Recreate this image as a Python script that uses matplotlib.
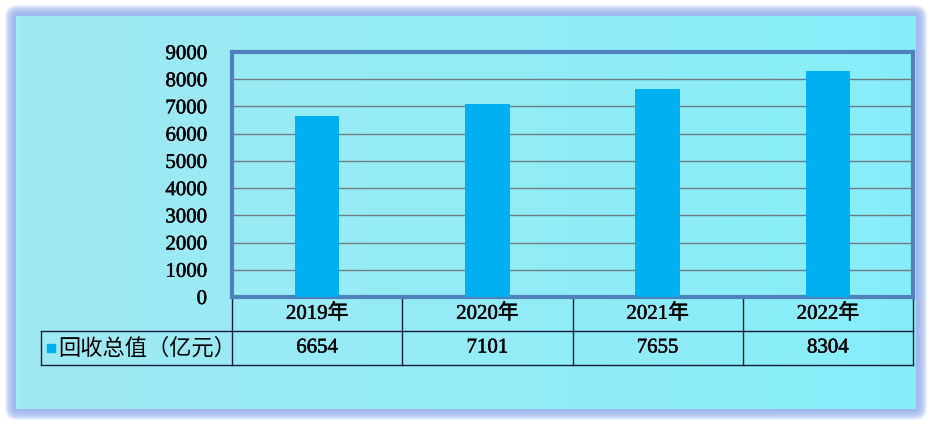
import numpy as np
import matplotlib
matplotlib.use('Agg')
import matplotlib.pyplot as plt
from matplotlib import transforms
from matplotlib import patheffects as pe
from matplotlib.patches import FancyBboxPatch, Rectangle

# data
years = ['2019年', '2020年', '2021年', '2022年']
values = [6654, 7101, 7655, 8304]
series_name = '回收总值（亿元）'
yticks = [0, 1000, 2000, 3000, 4000, 5000, 6000, 7000, 8000, 9000]

bar_color = '#00B0F0'
frame_color = '#4F81BD'
fonts = ['Liberation Serif', 'Noto Sans CJK SC', 'DejaVu Sans']
plt.rcParams['font.family'] = fonts
# slightly heavier than regular, lighter than bold
heavy = [pe.withStroke(linewidth=0.35, foreground='black')]

W, H = 932, 425
fig = plt.figure(figsize=(W / 100, H / 100), dpi=100, facecolor='white')

# background panel with soft glow
bg = fig.add_axes([0, 0, 1, 1], zorder=-5)
bg.set_xlim(0, W)
bg.set_ylim(H, 0)
bg.axis('off')
for d in range(11, 0, -1):
    p = FancyBboxPatch((16 - d, 16 - d), 900 + 2 * d, 393 + 2 * d,
                       boxstyle='round,pad=0,rounding_size=%d' % (d + 2),
                       facecolor='#94B0EC', edgecolor='none', alpha=0.17)
    bg.add_patch(p)
grad = np.linspace(0, 1, 256)[None, :, None]
left_c = np.array([160, 234, 242]) / 255.0
right_c = np.array([134, 238, 249]) / 255.0
img = left_c * (1 - grad) + right_c * grad
bg.imshow(img, extent=[16, 916, 409, 16], aspect='auto', zorder=2)

# main axes (plot area)
ax_l, ax_r, ax_t, ax_b = 232, 913, 52, 297
ax = fig.add_axes([ax_l / W, 1 - ax_b / H, (ax_r - ax_l) / W, (ax_b - ax_t) / H])
ax.set_facecolor('none')
x = np.arange(len(years))
ax.bar(x, values, width=0.26, color=bar_color, zorder=3)
ax.set_xlim(-0.5, len(years) - 0.5)
ax.set_ylim(yticks[0], yticks[-1])
ax.set_yticks(yticks)
ax.set_yticklabels([str(t) for t in yticks], fontsize=15)
for lab in ax.get_yticklabels():
    lab.set_path_effects(heavy)
ax.tick_params(axis='y', length=0, pad=18)
ax.set_xticks([])
ax.grid(axis='y', color='#6E7B80', linewidth=1, zorder=1)
for s in ax.spines.values():
    s.set_color(frame_color)
    s.set_linewidth(3)

# data table under the plot
px_h = ax_b - ax_t
rh = 34 / px_h
label_left = (41 - ax_l) / (ax_r - ax_l)
blend = transforms.blended_transform_factory(ax.transData, ax.transAxes)
line_kw = dict(color='#1A1A3A', linewidth=1, clip_on=False)

for i in range(len(years) + 1):
    ax.plot([i - 0.5, i - 0.5], [0, -2 * rh], transform=blend, **line_kw)
for yy in (-rh, -2 * rh):
    ax.plot([label_left, 1], [yy, yy], transform=ax.transAxes, **line_kw)
ax.plot([label_left, label_left], [-rh, -2 * rh], transform=ax.transAxes, **line_kw)

for i, (yr, v) in enumerate(zip(years, values)):
    ax.text(i, -0.5 * rh, yr, transform=blend, ha='center', va='center',
            fontsize=15, path_effects=heavy)
    ax.text(i, -1.5 * rh, str(v), transform=blend, ha='center', va='center',
            fontsize=15, path_effects=heavy)

ax.add_patch(Rectangle(((47 - ax_l) / (ax_r - ax_l), -1.5 * rh - 4 / px_h),
                       8 / (ax_r - ax_l), 8 / px_h, transform=ax.transAxes,
                       color=bar_color, clip_on=False))
ax.text((58 - ax_l) / (ax_r - ax_l), -1.5 * rh, series_name, transform=ax.transAxes,
        ha='left', va='center', fontsize=16, fontweight='medium',
        family=['Noto Sans CJK SC', 'DejaVu Sans'])

fig.savefig('out.png', dpi=100, facecolor='white')
